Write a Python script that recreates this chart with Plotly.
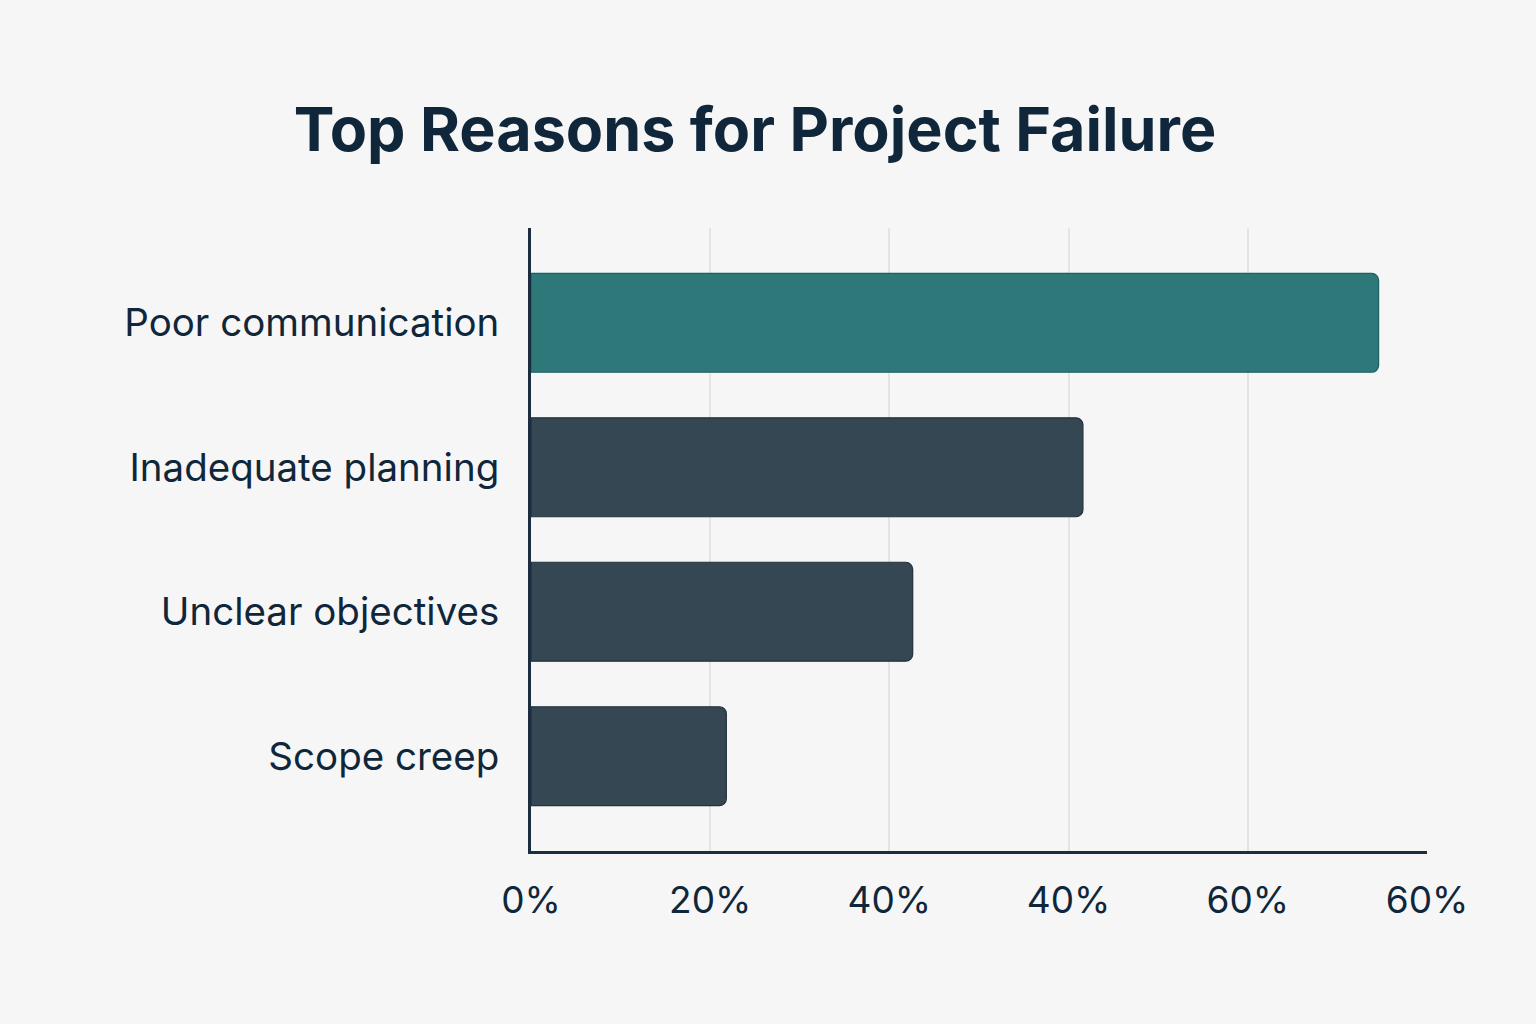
import plotly.graph_objects as go

categories = ["Poor communication", "Inadequate planning", "Unclear objectives", "Scope creep"]
values = [94.6, 61.6, 42.6, 21.8]
tick_values = [0, 20, 40, 60, 80, 100]
tick_labels = ["0%", "20%", "40%", "40%", "60%", "60%"]
bar_colors = ["#2E7879", "#354752", "#354752", "#354752"]
line_colors = ["#1E5F62", "#22323C", "#22323C", "#22323C"]

TEXT = "#10263A"

fig = go.Figure(go.Bar(
    y=categories, x=values, orientation="h",
    marker=dict(color=bar_colors, line=dict(color=line_colors, width=1.2), cornerradius=7),
    width=0.685,
))

fig.update_layout(
    width=1536, height=1024,
    margin=dict(l=531, r=109, t=228, b=173),
    paper_bgcolor="#F6F6F6", plot_bgcolor="#F6F6F6",
    showlegend=False,
    title=dict(text="<b>Top Reasons for Project Failure</b>", x=755/1536, xref="container", xanchor="center",
               y=1-130/1024, yref="container", yanchor="middle",
               font=dict(family="Inter", size=61, color=TEXT)),
    font=dict(family="Inter", color=TEXT),
)
fig.update_xaxes(
    range=[0, 100], tickvals=tick_values, ticktext=tick_labels,
    showgrid=True, gridcolor="#E4E4E4", gridwidth=2,
    showline=True, linecolor="#1B2D3E", linewidth=3,
    zeroline=False, ticks="outside", ticklen=15, tickcolor="rgba(0,0,0,0)",
    tickfont=dict(family="Inter", size=37, color=TEXT),
)
fig.update_yaxes(
    range=[3.656, -0.656], categoryorder="array", categoryarray=categories,
    showgrid=False, showline=True, linecolor="#1B2D3E", linewidth=3,
    ticks="outside", ticklen=21, tickcolor="rgba(0,0,0,0)",
    tickfont=dict(family="Inter", size=38.5, color=TEXT),
)

fig.write_html("out.html")
